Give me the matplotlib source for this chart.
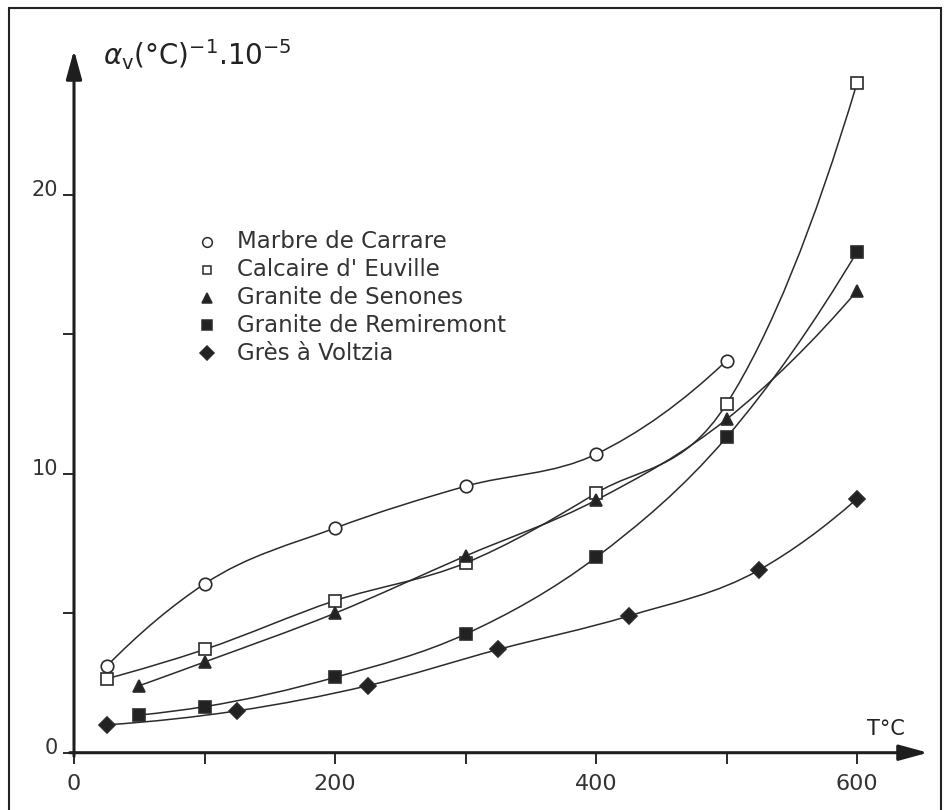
import numpy as np
import matplotlib
matplotlib.use("Agg")
import matplotlib.pyplot as plt
from matplotlib.path import Path
from matplotlib.patches import PathPatch, Rectangle

plt.rcParams['font.family'] = ['DejaVu Sans']
plt.rcParams['mathtext.fontset'] = 'dejavusans'

# coefficient de dilatation volumique (10^-5 /°C) en fonction de T (°C)
labels = ['Marbre de Carrare', "Calcaire d' Euville", 'Granite de Senones',
          'Granite de Remiremont', 'Grès à Voltzia']

t_marbre = [25, 100, 200, 300, 400, 500]
a_marbre = [3.1, 6.05, 8.05, 9.55, 10.7, 14.05]

t_calcaire = [25, 100, 200, 300, 400, 500, 600]
a_calcaire = [2.65, 3.7, 5.45, 6.8, 9.3, 12.5, 24.0]

t_senones = [50, 100, 200, 300, 400, 500, 600]
a_senones = [2.4, 3.25, 5.0, 7.05, 9.05, 11.95, 16.55]

t_remiremont = [50, 100, 200, 300, 400, 500, 600]
a_remiremont = [1.35, 1.65, 2.7, 4.25, 7.0, 11.3, 17.95]

t_gres = [25, 125, 225, 325, 425, 525, 600]
a_gres = [1.0, 1.5, 2.4, 3.7, 4.9, 6.55, 9.1]

series = [(t_marbre, a_marbre), (t_calcaire, a_calcaire), (t_senones, a_senones),
          (t_remiremont, a_remiremont), (t_gres, a_gres)]
markers = ['o', 's', '^', 's', 'D']
faces = ['white', 'white', '#222222', '#222222', '#222222']
msizes = [9, 8.5, 8, 8, 8.5]
leg_sizes = [7, 6, 6.5, 6.5, 7]

INK = '#2b2b2b'
W, H = 952, 810


def smooth_path(x, y):
    # courbe lissée : segments de Hermite (pentes de Bessel) en Béziers cubiques
    x = np.asarray(x, float)
    y = np.asarray(y, float)
    h = np.diff(x)
    d = np.diff(y) / h
    m = np.empty_like(y)
    m[1:-1] = (h[:-1] * d[1:] + h[1:] * d[:-1]) / (h[:-1] + h[1:])
    m[0] = ((2 * h[0] + h[1]) * d[0] - h[0] * d[1]) / (h[0] + h[1])
    m[-1] = ((2 * h[-1] + h[-2]) * d[-1] - h[-1] * d[-2]) / (h[-1] + h[-2])
    verts = [(x[0], y[0])]
    codes = [Path.MOVETO]
    for i in range(len(x) - 1):
        verts += [(x[i] + h[i] / 3, y[i] + m[i] * h[i] / 3),
                  (x[i + 1] - h[i] / 3, y[i + 1] - m[i + 1] * h[i] / 3),
                  (x[i + 1], y[i + 1])]
        codes += [Path.CURVE4] * 3
    return Path(verts, codes)


fig = plt.figure(figsize=(W / 100, H / 100), dpi=100)
fig.patch.set_facecolor('white')

x0, x1 = 74, 928
y0, y1 = 752.7, 50
ax = fig.add_axes([x0 / W, 1 - y0 / H, (x1 - x0) / W, (y0 - y1) / H])
ax.set_xlim(0, (x1 - x0) / 1.305)
ax.set_ylim(0, (y0 - y1) / 27.9)
ax.set_facecolor('none')

for (t, a), mk, fc, ms in zip(series, markers, faces, msizes):
    ax.add_patch(PathPatch(smooth_path(t, a), facecolor='none', edgecolor=INK,
                           lw=1.1, zorder=2))
    ax.plot(t, a, linestyle='none', marker=mk, ms=ms, mfc=fc, mec=INK,
            mew=1.2, zorder=3, clip_on=False)

# axes avec flèches
for s in ['top', 'right', 'left', 'bottom']:
    ax.spines[s].set_visible(False)
arrow = dict(arrowstyle='-|>,head_length=1.1,head_width=0.3', lw=2.2,
             color='#1e1e1e', shrinkA=0, shrinkB=0, mutation_scale=16)
ax.annotate('', xy=(1, 0), xytext=(-0.005, 0), xycoords='axes fraction',
            arrowprops=arrow)
ax.annotate('', xy=(0, 1), xytext=(0, -0.005), xycoords='axes fraction',
            arrowprops=arrow)

ax.set_xticks([0, 200, 400, 600])
ax.set_xticks([100, 300, 500], minor=True)
ax.set_yticks([0, 10, 20])
ax.set_yticks([5, 15], minor=True)
ax.set_yticklabels([])
ax.tick_params(axis='both', which='both', direction='out', length=8,
               width=1.4, color='#2a2a2a')
ax.tick_params(axis='x', which='major', labelsize=16, pad=7, labelcolor='#333333')

# graduations de l'axe vertical, posées juste au-dessus du trait
for v in [0, 10, 20]:
    ax.annotate(str(v), xy=(0, v), xycoords=('axes fraction', 'data'),
                xytext=(-16, 5), textcoords='offset pixels', ha='right',
                va='center', fontsize=15, color='#333333')

fig.text(103 / W, 1 - 55 / H,
         r'$\alpha_{\mathrm{v}}$(°C)$^{-1}$.10$^{-5}$',
         ha='left', va='center', fontsize=20, color='#222222')
fig.text(886 / W, 1 - 729 / H, 'T°C', ha='center', va='center',
         fontsize=15, color='#222222')

# légende
rows = [242, 270, 298, 325, 353]
for lab, mk, fc, ms, py in zip(labels, markers, faces, leg_sizes, rows):
    ax.plot([207 / W], [1 - py / H], transform=fig.transFigure, marker=mk,
            ms=ms, mfc=fc, mec=INK, mew=1.1, linestyle='none', clip_on=False)
    fig.text(237 / W, 1 - py / H, lab, ha='left', va='center', fontsize=16.5,
             color='#333333')

fig.add_artist(Rectangle((9 / W, -0.02), (941 - 9) / W, 1.02 - 8 / H,
                         transform=fig.transFigure, fill=False,
                         edgecolor='#222222', lw=1.5))

fig.savefig('out.png', dpi=100)
